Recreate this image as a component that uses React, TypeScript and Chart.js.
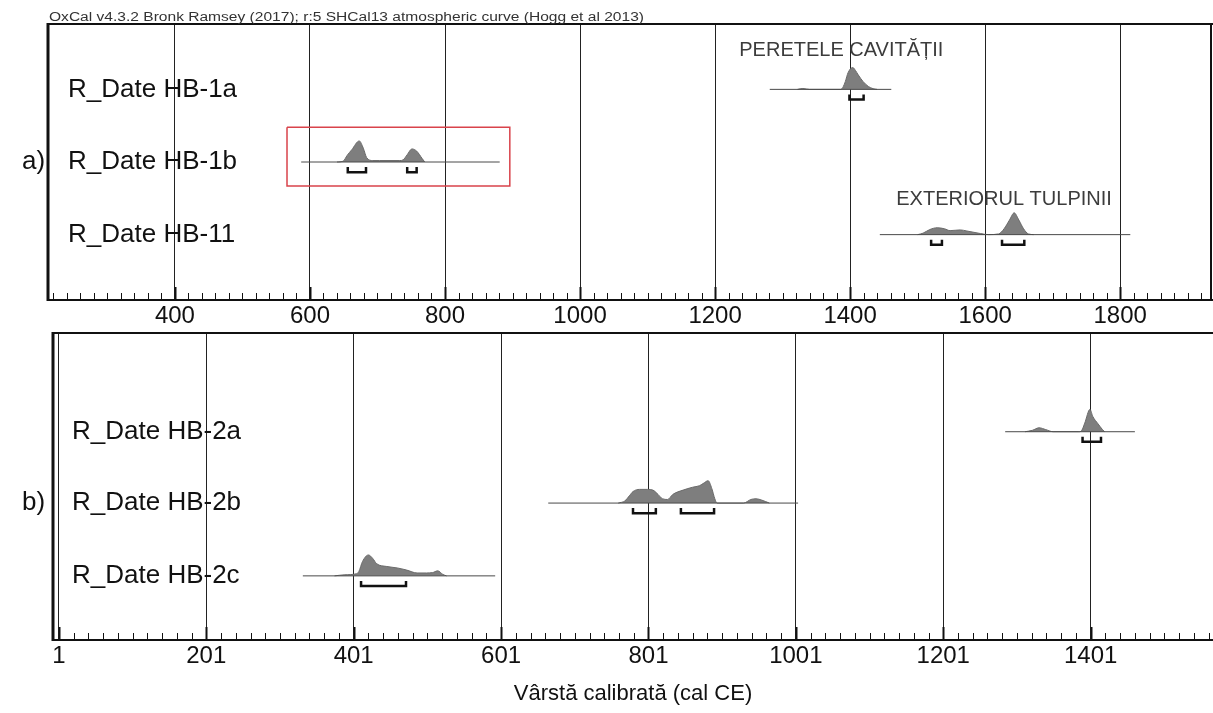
import React, { useEffect, useRef } from 'react';
import { Chart, registerables } from 'chart.js';
Chart.register(...registerables);

const FONT = "'Liberation Sans', Arial, sans-serif";
const NARROW = "'Liberation Sans Narrow', 'Liberation Sans', Arial, sans-serif";

const headerText = 'OxCal v4.3.2 Bronk Ramsey (2017); r:5 SHCal13 atmospheric curve (Hogg et al 2013)';
const axisTitleText = 'Vârstă calibrată (cal CE)';

// ---------- panel a ----------
const letterA = 'a)';
const ticksA = [400, 600, 800, 1000, 1200, 1400, 1600, 1800];
const xMinA = 212;
const xMaxA = 1936;
const yMaxA = 3.8;
const rowLabelsA = ['R_Date HB-1a', 'R_Date HB-1b', 'R_Date HB-11'];
const rowPosA = [2.9, 1.9, 0.9];
const baseStartA = [1281, 587, 1444];
const baseEndA = [1461, 881, 1815];
const hb1aYears = [1322, 1330, 1340, 1386, 1390, 1393, 1397, 1404, 1408, 1412, 1419, 1427, 1434, 1440];
const hb1aProb = [0, 0.012, 0, 0, 0.04, 0.11, 0.23, 0.30, 0.26, 0.20, 0.11, 0.04, 0.01, 0];
const hb1bYears = [640, 649, 655, 662, 673, 679, 684, 693, 703, 733, 738, 744, 751, 758, 766, 770];
const hb1bProb = [0, 0.01, 0.09, 0.17, 0.29, 0.19, 0.06, 0.02, 0.02, 0.02, 0.03, 0.1, 0.18, 0.15, 0.05, 0];
const hb11Years = [1500, 1508, 1518, 1529, 1540, 1548, 1563, 1573, 1593, 1605, 1620, 1628, 1636, 1643, 1650, 1657, 1664, 1672];
const hb11Prob = [0, 0.02, 0.07, 0.095, 0.08, 0.055, 0.065, 0.05, 0.015, 0, 0.01, 0.08, 0.2, 0.3, 0.2, 0.08, 0.01, 0];
const bracketsA = [[[1399, 1420]], [[656, 683], [744, 758]], [[1520, 1536], [1625, 1658]]];
const notesA = ['PERETELE CAVITĂȚII', 'EXTERIORUL TULPINII'];
const noteXA = [1387, 1628];
const noteYA = [3.44, 1.38];
const boxXA = [566, 896];
const boxYA = [1.57, 2.38];

// ---------- panel b ----------
const letterB = 'b)';
const ticksB = [1, 201, 401, 601, 801, 1001, 1201, 1401];
const xMinB = -7;
const xMaxB = 1567;
const yMaxB = 4.26;
const rowLabelsB = ['R_Date HB-2a', 'R_Date HB-2b', 'R_Date HB-2c'];
const rowPosB = [2.89, 1.9, 0.89];
const baseStartB = [1285, 665, 332];
const baseEndB = [1461, 1004, 593];
const hb2aYears = [1312, 1322, 1331, 1340, 1350, 1385, 1389, 1393, 1400, 1404, 1411, 1417, 1420];
const hb2aProb = [0, 0.02, 0.055, 0.03, 0, 0, 0.02, 0.12, 0.31, 0.21, 0.11, 0.03, 0];
const hb2bYears = [760, 769, 775, 780, 789, 800, 807, 814, 820, 827, 834, 848, 861, 870, 875, 882, 887, 891, 894, 930, 940, 947, 955, 965];
const hb2bProb = [0, 0.03, 0.1, 0.16, 0.19, 0.19, 0.18, 0.12, 0.06, 0.05, 0.12, 0.18, 0.22, 0.24, 0.27, 0.31, 0.2, 0.06, 0, 0, 0.05, 0.06, 0.04, 0];
const hb2cYears = [375, 389, 405, 408, 413, 421, 427, 432, 446, 460, 473, 487, 500, 508, 515, 522, 527];
const hb2cProb = [0, 0.015, 0.03, 0.06, 0.2, 0.29, 0.24, 0.17, 0.13, 0.11, 0.08, 0.04, 0.04, 0.045, 0.07, 0.02, 0];
const bracketsB = [[[1390, 1415]], [[780, 811], [845, 890]], [[411, 472]]];

type Spec = {
  id: string;
  letter: string;
  ticks: number[];
  xMin: number;
  xMax: number;
  yMax: number;
  labels: string[];
  rowPos: number[];
  baseStart: number[];
  baseEnd: number[];
  years: number[][];
  probs: number[][];
  brackets: number[][][];
  notes: string[];
  noteX: number[];
  noteY: number[];
  box: null | { x: number[]; y: number[] };
  minorOrigin: number;
  tickFont: string;
  padding: { left: number; top: number; right: number; bottom: number };
  axisHeight: number;
  labelInset: number;
  rightBorder: boolean;
  header: boolean;
  axisTitle: boolean;
};

const specA: Spec = {
  id: 'a', letter: letterA, ticks: ticksA, xMin: xMinA, xMax: xMaxA, yMax: yMaxA,
  labels: rowLabelsA, rowPos: rowPosA, baseStart: baseStartA, baseEnd: baseEndA,
  years: [hb1aYears, hb1bYears, hb11Years], probs: [hb1aProb, hb1bProb, hb11Prob],
  brackets: bracketsA, notes: notesA, noteX: noteXA, noteY: noteYA,
  box: { x: boxXA, y: boxYA }, minorOrigin: 0, tickFont: FONT,
  padding: { left: 48, top: 24, right: 1, bottom: 0 }, axisHeight: 32, labelInset: 20,
  rightBorder: true, header: true, axisTitle: false,
};

const specB: Spec = {
  id: 'b', letter: letterB, ticks: ticksB, xMin: xMinB, xMax: xMaxB, yMax: yMaxB,
  labels: rowLabelsB, rowPos: rowPosB, baseStart: baseStartB, baseEnd: baseEndB,
  years: [hb2aYears, hb2bYears, hb2cYears], probs: [hb2aProb, hb2bProb, hb2cProb],
  brackets: bracketsB, notes: [], noteX: [], noteY: [],
  box: null, minorOrigin: 1, tickFont: NARROW,
  padding: { left: 53, top: 8, right: 0, bottom: 0 }, axisHeight: 73, labelInset: 19,
  rightBorder: false, header: false, axisTitle: true,
};

function buildDatasets(s: Spec) {
  const ds: any[] = [];
  const common = { showLine: true, pointRadius: 0, pointHoverRadius: 0 };
  s.labels.forEach((_, i) => {
    const pos = s.rowPos[i];
    ds.push({
      ...common,
      data: [{ x: s.baseStart[i], y: pos }, { x: s.baseEnd[i], y: pos }],
      borderColor: '#4a4a4a', borderWidth: 1, fill: false,
    });
    ds.push({
      ...common,
      data: s.years[i].map((x, k) => ({ x, y: pos + s.probs[i][k] })),
      borderColor: '#6a6a6a', borderWidth: 1, backgroundColor: '#7e7e7e',
      fill: { value: pos }, cubicInterpolationMode: 'monotone',
    });
    s.brackets[i].forEach(([a, b]) => {
      ds.push({
        ...common,
        data: [
          { x: a, y: pos - 0.07 }, { x: a, y: pos - 0.14 },
          { x: b, y: pos - 0.14 }, { x: b, y: pos - 0.07 },
        ],
        borderColor: '#111', borderWidth: 2.5, fill: false,
        borderCapStyle: 'butt', borderJoinStyle: 'miter',
      });
    });
  });
  if (s.box) {
    const [x0, x1] = s.box.x;
    const [y0, y1] = s.box.y;
    ds.push({
      ...common,
      data: [{ x: x0, y: y1 }, { x: x1, y: y1 }, { x: x1, y: y0 }, { x: x0, y: y0 }, { x: x0, y: y1 }],
      borderColor: '#d9434b', borderWidth: 1.5, fill: false,
    });
  }
  return ds;
}

function framePlugin(s: Spec) {
  return {
    id: 'frame_' + s.id,
    afterDraw(chart: any) {
      const { ctx, chartArea: ca } = chart;
      const x = chart.scales.x;
      const y = chart.scales.y;
      ctx.save();
      ctx.strokeStyle = '#111';
      // frame
      ctx.lineWidth = 2;
      ctx.beginPath();
      ctx.moveTo(ca.left, ca.top);
      ctx.lineTo(ca.right + 2, ca.top);
      ctx.moveTo(ca.left, ca.bottom);
      ctx.lineTo(ca.right + 2, ca.bottom);
      if (s.rightBorder) {
        ctx.moveTo(ca.right - 1, ca.top);
        ctx.lineTo(ca.right - 1, ca.bottom);
      }
      ctx.stroke();
      ctx.lineWidth = 3;
      ctx.beginPath();
      ctx.moveTo(ca.left, ca.top - 1);
      ctx.lineTo(ca.left, ca.bottom + 1);
      ctx.stroke();
      // minor / major ticks
      const start = s.minorOrigin + Math.ceil((s.xMin - s.minorOrigin) / 20) * 20;
      for (let v = start; v <= s.xMax; v += 20) {
        const px = Math.round(x.getPixelForValue(v)) + 0.5;
        if (px < ca.left + 3 || px > ca.right - 2) continue;
        const major = s.ticks.includes(v);
        ctx.lineWidth = major ? 2 : 1;
        ctx.beginPath();
        ctx.moveTo(px, ca.bottom);
        ctx.lineTo(px, ca.bottom - (major ? 13 : 7));
        ctx.stroke();
      }
      // row labels
      ctx.fillStyle = '#111';
      ctx.font = `26px ${FONT}`;
      ctx.textAlign = 'left';
      ctx.textBaseline = 'middle';
      s.labels.forEach((lab, i) => {
        ctx.fillText(lab, ca.left + s.labelInset, y.getPixelForValue(s.rowPos[i]));
      });
      // panel letter
      ctx.font = `26px ${FONT}`;
      ctx.fillText(s.letter, 22, y.getPixelForValue(s.rowPos[1]));
      // notes
      ctx.fillStyle = '#3c3c3c';
      ctx.font = `20px ${FONT}`;
      ctx.textAlign = 'center';
      s.notes.forEach((n, i) => {
        ctx.fillText(n, x.getPixelForValue(s.noteX[i]), y.getPixelForValue(s.noteY[i]));
      });
      // header
      if (s.header) {
        ctx.font = `12px ${FONT}`;
        ctx.fillStyle = '#333';
        ctx.textAlign = 'left';
        ctx.textBaseline = 'alphabetic';
        const w = ctx.measureText(headerText).width;
        ctx.translate(ca.left + 1, ca.top - 3);
        ctx.scale(595 / w, 1);
        ctx.fillText(headerText, 0, 0);
      }
      ctx.restore();
    },
  };
}

function makeConfig(s: Spec): any {
  return {
    type: 'scatter',
    data: { datasets: buildDatasets(s) },
    options: {
      responsive: false,
      animation: false,
      devicePixelRatio: 1,
      events: [],
      layout: { padding: s.padding },
      plugins: { legend: { display: false }, tooltip: { enabled: false }, title: { display: false } },
      scales: {
        x: {
          type: 'linear',
          position: 'bottom',
          min: s.xMin,
          max: s.xMax,
          z: 1,
          afterBuildTicks: (scale: any) => {
            scale.ticks = s.ticks.map((v) => ({ value: v }));
          },
          afterFit: (scale: any) => {
            scale.height = s.axisHeight;
          },
          grid: { color: '#222', lineWidth: 1, drawTicks: false },
          border: { display: false },
          ticks: {
            autoSkip: false,
            maxRotation: 0,
            padding: 2,
            color: '#111',
            font: { family: s.tickFont, size: 24 },
            callback: (v: any) => String(v),
          },
          title: {
            display: s.axisTitle,
            text: axisTitleText,
            color: '#111',
            font: { family: FONT, size: 22 },
            padding: { top: 0, bottom: 6 },
          },
        },
        y: { type: 'linear', display: false, min: 0, max: s.yMax },
      },
    },
    plugins: [framePlugin(s)],
  };
}

function Panel({ spec, top, height }: { spec: Spec; top: number; height: number }) {
  const ref = useRef<HTMLCanvasElement>(null);
  useEffect(() => {
    const chart = new Chart(ref.current as HTMLCanvasElement, makeConfig(spec));
    return () => chart.destroy();
  }, [spec]);
  return (
    <canvas
      ref={ref}
      width={1213}
      height={height}
      style={{ position: 'absolute', left: 0, top, width: 1213, height }}
    />
  );
}

export default function App() {
  return (
    <div style={{ position: 'fixed', left: 0, top: 0, width: 1213, height: 713, background: '#fff', overflow: 'hidden' }}>
      <Panel spec={specA} top={0} height={332} />
      <Panel spec={specB} top={325} height={388} />
    </div>
  );
}
